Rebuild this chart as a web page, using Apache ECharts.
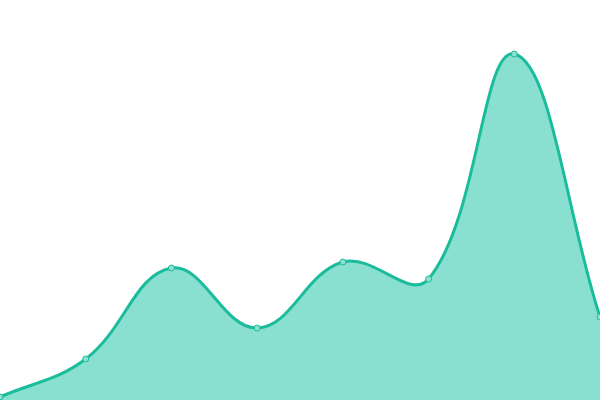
<!DOCTYPE html>
<html>
<head>
<meta charset="utf-8">
<script src="https://cdn.jsdelivr.net/npm/echarts@6/dist/echarts.min.js"></script>
<style>
  html, body { margin: 0; padding: 0; background: #fff; }
  #chart { width: 600px; height: 400px; }
</style>
</head>
<body>
<div id="chart"></div>
<script>
// Values (axis hidden, 0..400 scale)
const categories = ['1', '2', '3', '4', '5', '6', '7', '8'];
const values = [3, 41, 132, 72, 138, 121, 346, 83];

const TENSION = 0.4;

// cardinal-style spline (no clamping to neighbours, so it can overshoot a bit like the reference)
function splinePath(pts, area) {
  const cps = pts.map((p, i) => {
    const prev = pts[i - 1] || p;
    const next = pts[i + 1] || p;
    const d01 = Math.hypot(p[0] - prev[0], p[1] - prev[1]);
    const d12 = Math.hypot(next[0] - p[0], next[1] - p[1]);
    let s01 = d01 / (d01 + d12);
    let s12 = d12 / (d01 + d12);
    s01 = isNaN(s01) ? 0 : s01;
    s12 = isNaN(s12) ? 0 : s12;
    const fa = TENSION * s01, fb = TENSION * s12;
    const clampX = x => Math.min(Math.max(x, area.x), area.x + area.width);
    const clampY = y => Math.min(Math.max(y, area.y), area.y + area.height);
    return {
      prev: [clampX(p[0] - fa * (next[0] - prev[0])), clampY(p[1] - fa * (next[1] - prev[1]))],
      next: [clampX(p[0] + fb * (next[0] - prev[0])), clampY(p[1] + fb * (next[1] - prev[1]))]
    };
  });
  let d = 'M' + pts[0][0] + ' ' + pts[0][1];
  for (let i = 1; i < pts.length; i++) {
    const a = cps[i - 1].next, b = cps[i].prev;
    d += ' C' + a[0] + ' ' + a[1] + ' ' + b[0] + ' ' + b[1] + ' ' + pts[i][0] + ' ' + pts[i][1];
  }
  return d;
}

const chart = echarts.init(document.getElementById('chart'), null, { renderer: 'canvas' });

chart.setOption({
  animation: false,
  grid: { left: 0, right: 0, top: 0, bottom: 0 },
  xAxis: {
    type: 'category',
    data: categories,
    boundaryGap: false,
    show: false
  },
  yAxis: {
    type: 'value',
    min: 0,
    max: 400,
    show: false
  },
  series: [
    {
      type: 'custom',
      data: values.map((v, i) => [i, v]),
      clip: false,
      renderItem: function (params, api) {
        if (params.dataIndex !== 0) return;
        const pts = values.map((v, i) => api.coord([i, v]));
        const area = params.coordSys;
        const line = splinePath(pts, area);
        const base = api.coord([0, 0])[1];
        const last = pts[pts.length - 1];
        const fillPath = line + ' L' + last[0] + ' ' + base + ' L' + pts[0][0] + ' ' + base + ' Z';
        return {
          type: 'group',
          children: [
            { type: 'path', shape: { pathData: fillPath }, style: { fill: '#8ae0d0', stroke: null } },
            { type: 'path', shape: { pathData: line }, style: { fill: null, stroke: '#1abc9c', lineWidth: 3 } }
          ]
        };
      }
    },
    {
      type: 'scatter',
      data: values,
      symbol: 'circle',
      symbolSize: 6,
      itemStyle: { color: '#8ee0d0', borderColor: '#1abc9c', borderWidth: 1, opacity: 1 }
    }
  ]
});
</script>
</body>
</html>
